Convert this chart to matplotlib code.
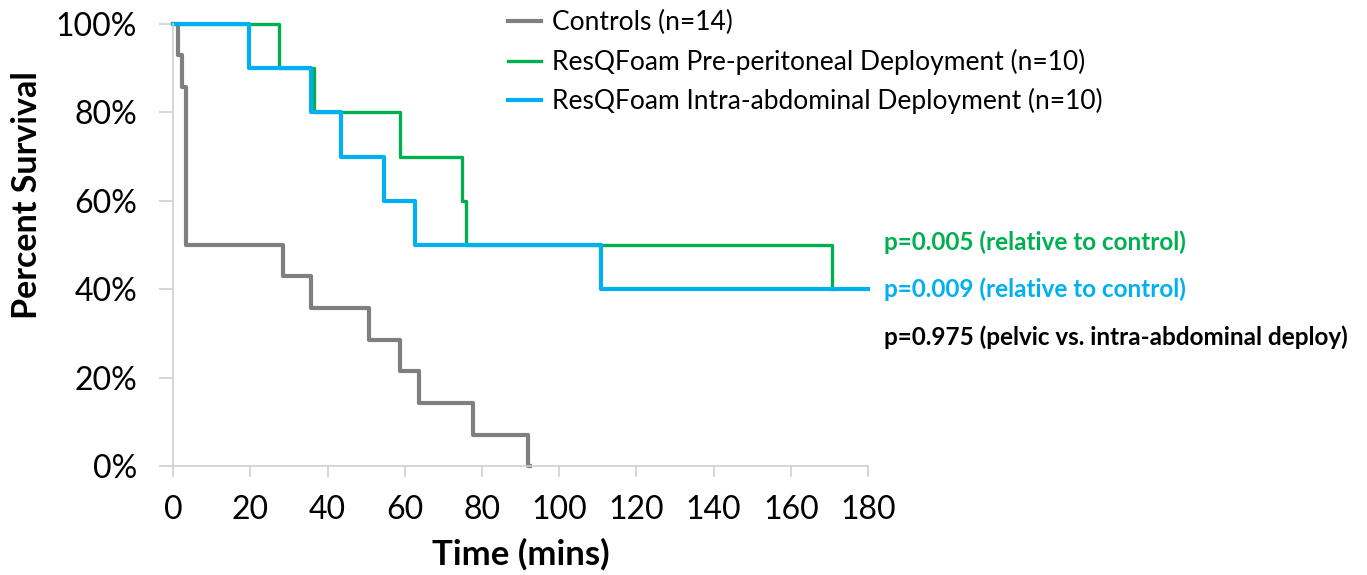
import matplotlib
matplotlib.use("Agg")
import matplotlib.pyplot as plt

plt.rcParams['font.family'] = ['Lato', 'DejaVu Sans']

# Kaplan-Meier steps (minutes, % survival)
control_t = [0, 1.3, 2.3, 3.4, 28.6, 35.8, 50.8, 58.8, 63.7, 77.6, 91.9, 92.5]
control_s = [100, 92.9, 85.7, 50, 42.9, 35.7, 28.6, 21.4, 14.3, 7.1, 0, 0]

prep_t = [0, 27.5, 36.5, 58.8, 74.8, 75.8, 170.7]
prep_s = [100, 90, 80, 70, 60, 50, 40]

intra_t = [0, 19.7, 35.7, 43.5, 54.7, 62.7, 110.8, 180]
intra_s = [100, 90, 80, 70, 60, 50, 40, 40]

labels = ['Controls (n=14)',
          'ResQFoam Pre-peritoneal Deployment (n=10)',
          'ResQFoam Intra-abdominal Deployment (n=10)']
colors = ['#7f7f7f', '#00b050', '#00b0f0']

pvals = ['p=0.005 (relative to control)',
         'p=0.009 (relative to control)',
         'p=0.975 (pelvic vs. intra-abdominal deploy)']
pcolors = ['#00b050', '#00b0f0', '#000000']

xticks = list(range(0, 181, 20))
yticks = [0, 20, 40, 60, 80, 100]

fig = plt.figure(figsize=(13.67, 5.75), dpi=100)
ax = fig.add_axes([0.1266, 0.1896, 0.5084, 0.7687])

ax.step(control_t, control_s, where='post', color=colors[0], lw=3.0,
        label=labels[0], clip_on=False)
ax.step(prep_t, prep_s, where='post', color=colors[1], lw=2.4,
        label=labels[1], clip_on=False)
ax.step(intra_t, intra_s, where='post', color=colors[2], lw=3.0,
        label=labels[2], clip_on=False)

ax.set_xlim(0, 180)
ax.set_ylim(0, 100)
ax.set_xticks(xticks)
ax.set_yticks(yticks)
ax.set_yticklabels([f'{v}%' for v in yticks])
ax.tick_params(axis='both', labelsize=23, length=9, width=1.2,
               color='#d0d0d0')
ax.tick_params(axis='y', pad=16, length=10)
ax.tick_params(axis='x', pad=13, length=8)

for side in ['top', 'right']:
    ax.spines[side].set_visible(False)
for side in ['left', 'bottom']:
    ax.spines[side].set_color('#d0d0d0')
    ax.spines[side].set_linewidth(1.2)

ax.set_xlabel('Time (mins)', fontsize=25, fontweight='bold', labelpad=9)
ax.set_ylabel('Percent Survival', fontsize=24.5, fontweight='bold')
ax.yaxis.set_label_coords(-0.187, 0.613)

fig.legend(loc='upper left', bbox_to_anchor=(0.3716, 0.982), frameon=False,
           fontsize=19, handlelength=1.26, handletextpad=0.42,
           labelspacing=0.5, borderpad=0, borderaxespad=0)

for i, (txt, c) in enumerate(zip(pvals, pcolors)):
    fig.text(0.647, 1 - (242 + 47.5 * i) / 575, txt, color=c, fontsize=17.5,
             fontweight='bold', ha='left', va='center')

fig.savefig('out.png', dpi=100)
